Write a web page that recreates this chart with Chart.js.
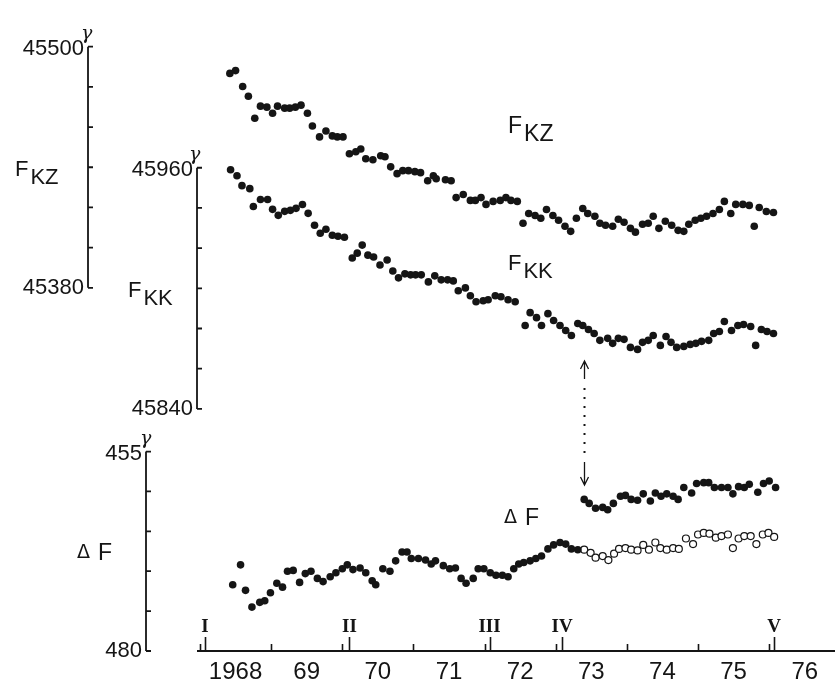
<!DOCTYPE html>
<html>
<head>
<meta charset="utf-8">
<script src="https://cdn.jsdelivr.net/npm/chart.js@4.4.1/dist/chart.umd.min.js"></script>
<style>
  html, body { margin: 0; padding: 0; background: #fff; }
  #wrap { position: relative; width: 839px; height: 684px; }
</style>
</head>
<body>
<div id="wrap"><canvas id="magChart" width="839" height="684"></canvas></div>
<script>
// Eixo X: anos
const yearMids = [1968.5, 1969.5, 1970.5, 1971.5, 1972.5, 1973.5, 1974.5, 1975.5, 1976.5];
const yearLabels = ['1968', '69', '70', '71', '72', '73', '74', '75', '76'];
const yearStarts = [1968, 1969, 1970, 1971, 1972, 1973, 1974, 1975, 1976];
const epochYears = [1968.07, 1970.1, 1972.07, 1973.09, 1976.07];
const epochLabels = ['I', 'II', 'III', 'IV', 'V'];

// Ticks dos eixos verticais
const fkzTicks = [45500, 45480, 45460, 45440, 45420, 45400, 45380];
const fkkTicks = [45960, 45940, 45920, 45900, 45880, 45860, 45840];
const dfTicks = [455, 460, 465, 470, 475, 480];

// F_KZ
const fkzYear = [1968.42, 1968.50, 1968.60, 1968.68, 1968.77, 1968.85, 1968.94, 1969.02, 1969.09, 1969.19,
  1969.26, 1969.34, 1969.42, 1969.51, 1969.58, 1969.68, 1969.77, 1969.86, 1969.93, 1970.01,
  1970.10, 1970.19, 1970.26, 1970.33, 1970.43, 1970.54, 1970.60, 1970.68, 1970.77, 1970.85,
  1970.93, 1971.02, 1971.10, 1971.20, 1971.28, 1971.32, 1971.45, 1971.53, 1971.60, 1971.70,
  1971.80, 1971.87, 1971.95, 1972.02, 1972.12, 1972.22, 1972.30, 1972.37, 1972.46, 1972.54,
  1972.62, 1972.71, 1972.79, 1972.87, 1972.96, 1973.04, 1973.13, 1973.21, 1973.29, 1973.38,
  1973.45, 1973.55, 1973.62, 1973.70, 1973.80, 1973.88, 1973.96, 1974.05, 1974.12, 1974.22,
  1974.30, 1974.37, 1974.45, 1974.54, 1974.63, 1974.72, 1974.80, 1974.87, 1974.96, 1975.04,
  1975.12, 1975.21, 1975.30, 1975.37, 1975.46, 1975.53, 1975.63, 1975.72, 1975.79, 1975.86,
  1975.96, 1976.06];
const fkzValue = [45486.7, 45488.1, 45480.2, 45475.3, 45464.4, 45470.4, 45469.9, 45466.9, 45470.4, 45469.4,
  45469.4, 45469.9, 45470.9, 45466.9, 45460.5, 45455.1, 45458.0, 45455.6, 45455.1, 45455.1,
  45446.7, 45447.7, 45449.1, 45444.2, 45443.7, 45445.7, 45445.2, 45440.2, 45436.8, 45438.3,
  45438.3, 45437.8, 45437.3, 45433.3, 45435.8, 45434.3, 45433.8, 45433.3, 45424.9, 45426.4,
  45423.5, 45423.5, 45424.9, 45421.5, 45423.0, 45423.5, 45424.9, 45423.5, 45423.0, 45412.1,
  45417.0, 45416.0, 45414.6, 45419.0, 45416.0, 45413.6, 45410.6, 45408.1, 45414.6, 45419.5,
  45417.0, 45415.6, 45412.1, 45411.1, 45410.6, 45414.1, 45412.6, 45409.6, 45407.7, 45411.6,
  45412.1, 45415.6, 45409.6, 45413.1, 45411.1, 45408.6, 45408.1, 45411.6, 45413.6, 45414.6,
  45415.6, 45417.0, 45419.0, 45423.0, 45417.0, 45421.5, 45421.5, 45421.0, 45410.6, 45420.0,
  45418.0, 45417.5];

// F_KK
const fkkYear = [1968.43, 1968.52, 1968.59, 1968.70, 1968.75, 1968.85, 1968.95, 1969.02, 1969.10, 1969.19,
  1969.27, 1969.35, 1969.44, 1969.52, 1969.61, 1969.69, 1969.77, 1969.86, 1969.94, 1970.03,
  1970.14, 1970.21, 1970.28, 1970.36, 1970.44, 1970.53, 1970.63, 1970.71, 1970.79, 1970.88,
  1970.96, 1971.03, 1971.11, 1971.21, 1971.30, 1971.39, 1971.48, 1971.56, 1971.63, 1971.73,
  1971.80, 1971.88, 1971.98, 1972.05, 1972.15, 1972.23, 1972.33, 1972.43, 1972.57, 1972.64,
  1972.73, 1972.80, 1972.89, 1972.97, 1973.06, 1973.14, 1973.22, 1973.31, 1973.38, 1973.46,
  1973.54, 1973.62, 1973.73, 1973.80, 1973.88, 1973.96, 1974.05, 1974.15, 1974.22, 1974.30,
  1974.37, 1974.47, 1974.55, 1974.62, 1974.70, 1974.80, 1974.89, 1974.97, 1975.05, 1975.15,
  1975.22, 1975.30, 1975.37, 1975.47, 1975.56, 1975.64, 1975.74, 1975.81, 1975.89, 1975.97,
  1976.06];
const fkkValue = [45959.0, 45956.0, 45951.1, 45949.6, 45940.7, 45944.2, 45944.2, 45939.3, 45936.3, 45938.3,
  45938.8, 45939.8, 45941.7, 45937.3, 45931.4, 45927.4, 45929.4, 45926.4, 45925.9, 45925.4,
  45915.1, 45917.5, 45921.5, 45916.5, 45915.6, 45911.6, 45914.1, 45908.6, 45905.2, 45907.2,
  45906.7, 45906.7, 45906.7, 45903.2, 45906.2, 45904.2, 45904.2, 45903.7, 45898.8, 45900.2,
  45896.3, 45893.3, 45893.8, 45894.3, 45896.3, 45895.8, 45894.3, 45893.3, 45881.5, 45887.9,
  45885.4, 45881.5, 45887.4, 45884.0, 45881.5, 45879.0, 45876.5, 45882.5, 45881.5, 45879.5,
  45877.5, 45874.1, 45875.1, 45872.6, 45875.1, 45874.6, 45870.6, 45869.6, 45873.1, 45874.1,
  45876.5, 45871.6, 45876.0, 45873.1, 45870.6, 45871.1, 45872.1, 45872.6, 45873.6, 45874.1,
  45877.5, 45878.5, 45883.5, 45879.0, 45881.5, 45882.0, 45881.0, 45871.6, 45879.5, 45878.5,
  45877.5];

// Delta F (pontos cheios ate 1973)
const dfYear = [1968.46, 1968.57, 1968.64, 1968.73, 1968.84, 1968.91, 1968.99, 1969.08, 1969.16, 1969.23,
  1969.31, 1969.40, 1969.48, 1969.56, 1969.65, 1969.73, 1969.83, 1969.91, 1970.00, 1970.07,
  1970.15, 1970.25, 1970.33, 1970.42, 1970.47, 1970.57, 1970.67, 1970.75, 1970.84, 1970.91,
  1970.97, 1971.07, 1971.17, 1971.25, 1971.31, 1971.42, 1971.51, 1971.59, 1971.67, 1971.74,
  1971.84, 1971.91, 1971.99, 1972.08, 1972.16, 1972.25, 1972.33, 1972.41, 1972.48, 1972.55,
  1972.64, 1972.72, 1972.80, 1972.89, 1972.97, 1973.06, 1973.14, 1973.22, 1973.31];
const dfValue = [471.7, 469.2, 472.4, 474.5, 473.9, 473.7, 472.7, 471.5, 472.0, 470.0,
  469.9, 471.4, 470.3, 470.0, 470.9, 471.3, 470.7, 470.2, 469.7, 469.2,
  469.8, 469.6, 470.2, 471.2, 471.7, 469.7, 470.0, 468.7, 467.6, 467.6,
  468.4, 468.4, 468.6, 469.1, 468.7, 469.3, 469.7, 469.6, 470.9, 471.5,
  470.9, 469.7, 469.7, 470.2, 470.5, 470.5, 470.7, 469.7, 469.1, 468.9,
  468.7, 468.4, 468.1, 467.2, 466.7, 466.4, 466.6, 467.2, 467.3];

// Delta F sem correcao (circulos abertos)
const dfOpenYear = [1973.40, 1973.49, 1973.56, 1973.66, 1973.74, 1973.82, 1973.89, 1973.98, 1974.06, 1974.15,
  1974.23, 1974.31, 1974.40, 1974.47, 1974.56, 1974.65, 1974.73, 1974.83, 1974.93, 1975.00,
  1975.08, 1975.16, 1975.25, 1975.33, 1975.42, 1975.49, 1975.57, 1975.65, 1975.74, 1975.82,
  1975.91, 1975.99, 1976.07];
const dfOpenValue = [467.3, 467.7, 468.3, 468.1, 468.6, 467.8, 467.2, 467.1, 467.3, 467.4,
  466.7, 467.3, 466.4, 467.1, 467.3, 467.1, 467.2, 465.9, 466.6, 465.4,
  465.2, 465.3, 465.8, 465.6, 465.4, 467.1, 465.9, 465.6, 465.6, 466.6,
  465.4, 465.2, 465.7];

// Delta F corrigido (pontos cheios depois da seta)
const dfCorrYear = [1973.40, 1973.47, 1973.56, 1973.66, 1973.73, 1973.81, 1973.91, 1973.98, 1974.06, 1974.15,
  1974.23, 1974.33, 1974.40, 1974.48, 1974.56, 1974.65, 1974.72, 1974.80, 1974.91, 1974.98,
  1975.08, 1975.15, 1975.23, 1975.33, 1975.42, 1975.49, 1975.57, 1975.65, 1975.72, 1975.84,
  1975.92, 1976.00, 1976.09];
const dfCorrValue = [461.0, 461.5, 462.1, 462.0, 462.3, 461.5, 460.6, 460.5, 461.0, 461.1,
  460.3, 461.2, 460.2, 460.6, 460.3, 460.6, 461.0, 459.5, 460.2, 459.0,
  458.9, 458.9, 459.5, 459.5, 459.5, 460.3, 459.4, 459.5, 459.1, 460.1,
  459.0, 458.7, 459.5];

const ink = '#151515';
const pts = (xs, ys) => xs.map((x, i) => ({ x: x, y: ys[i] }));

function dotSet(xs, ys, axis, open) {
  return {
    data: pts(xs, ys),
    yAxisID: axis,
    pointRadius: open ? 3.5 : 3.8,
    pointHoverRadius: 3.8,
    pointBackgroundColor: open ? '#fff' : ink,
    pointBorderColor: ink,
    pointBorderWidth: open ? 1.2 : 0,
    showLine: false,
    clip: false
  };
}

// texto com subscrito (F_KZ etc.)
function subText(c, main, sub, x, base, size) {
  c.font = size + 'px "Liberation Sans", Arial, sans-serif';
  c.textAlign = 'left';
  c.textBaseline = 'alphabetic';
  c.fillText(main, x, base);
  const w = c.measureText(main).width;
  c.fillText(sub, x + w + 2, base + 8);
}

function deltaF(c, x, base, size) {
  c.textAlign = 'left';
  c.textBaseline = 'alphabetic';
  c.font = Math.round(size * 0.82) + 'px "DejaVu Sans", sans-serif';
  c.fillText('\u0394', x, base - 2);
  c.font = size + 'px "Liberation Sans", Arial, sans-serif';
  c.fillText('F', x + Math.round(size * 0.9), base);
}

function vAxis(c, scale, x, ticks, gx) {
  const top = scale.getPixelForValue(ticks[0]);
  const bot = scale.getPixelForValue(ticks[ticks.length - 1]);
  c.strokeStyle = ink;
  c.lineWidth = 1.8;
  c.beginPath();
  c.moveTo(x, top);
  c.lineTo(x, bot);
  ticks.forEach(v => {
    const y = scale.getPixelForValue(v);
    c.moveTo(x, y);
    c.lineTo(x + 5, y);
  });
  c.stroke();
  c.fillStyle = ink;
  c.font = '22px "Liberation Sans", Arial, sans-serif';
  c.textAlign = 'right';
  c.textBaseline = 'middle';
  c.fillText(String(ticks[0]), x - 4, top + 2);
  c.fillText(String(ticks[ticks.length - 1]), x - 4, bot);
  c.font = 'italic 19px "DejaVu Serif", serif';
  c.textAlign = 'left';
  c.textBaseline = 'alphabetic';
  c.fillText('\u03b3', x + gx, top - 8);
}

const paperAxes = {
  id: 'paperAxes',
  afterDraw(chart) {
    const c = chart.ctx;
    const xs = chart.scales.x;
    const base = chart.chartArea.bottom;
    c.save();
    vAxis(c, chart.scales.yKZ, 88, fkzTicks, -7);
    vAxis(c, chart.scales.yKK, 197, fkkTicks, -8);
    vAxis(c, chart.scales.yDF, 146, dfTicks, -6);

    c.fillStyle = ink;
    subText(c, 'F', 'KZ', 15, 176, 22);
    subText(c, 'F', 'KK', 128, 297, 22);
    deltaF(c, 77, 560, 23);
    subText(c, 'F', 'KZ', 508, 133, 23);
    subText(c, 'F', 'KK', 508, 270, 22);
    deltaF(c, 504, 525, 23);

    // ticks do eixo x
    c.strokeStyle = ink;
    c.lineWidth = 1.6;
    c.beginPath();
    yearStarts.forEach(v => {
      const px = Math.round(xs.getPixelForValue(v)) + 0.5;
      c.moveTo(px, base);
      c.lineTo(px, base - 7);
    });
    epochYears.forEach(v => {
      const px = Math.round(xs.getPixelForValue(v)) + 0.5;
      c.moveTo(px, base);
      c.lineTo(px, base - 14);
    });
    c.stroke();

    // numerais romanos das epocas
    c.font = 'bold 19px "Liberation Serif", "DejaVu Serif", serif';
    c.textAlign = 'center';
    c.textBaseline = 'alphabetic';
    epochYears.forEach((v, i) => {
      c.fillText(epochLabels[i], xs.getPixelForValue(v), base - 19);
    });

    // setas ligando FKK e delta F em 1973
    const ax = Math.round(xs.getPixelForValue(dfCorrYear[0])) + 0.5;
    c.lineWidth = 1.3;
    c.beginPath();
    c.moveTo(ax, 362); c.lineTo(ax, 379);
    c.moveTo(ax - 4, 369); c.lineTo(ax, 361); c.lineTo(ax + 4, 369);
    c.moveTo(ax, 462); c.lineTo(ax, 485);
    c.moveTo(ax - 4, 477); c.lineTo(ax, 485); c.lineTo(ax + 4, 477);
    c.stroke();
    for (let y = 388; y < 458; y += 9) {
      c.fillRect(ax - 1, y, 2, 2);
    }
    c.restore();
  }
};

const ctx = document.getElementById('magChart').getContext('2d');
const myChart = new Chart(ctx, {
  type: 'scatter',
  data: {
    datasets: [
      dotSet(fkzYear, fkzValue, 'yKZ', false),
      dotSet(fkkYear, fkkValue, 'yKK', false),
      dotSet(dfYear, dfValue, 'yDF', false),
      dotSet(dfOpenYear, dfOpenValue, 'yDF', true),
      dotSet(dfCorrYear, dfCorrValue, 'yDF', false)
    ]
  },
  options: {
    responsive: false,
    animation: false,
    devicePixelRatio: 1,
    layout: { padding: { left: 198, right: 1, top: 0, bottom: 0 } },
    plugins: {
      legend: { display: false },
      tooltip: { enabled: false }
    },
    scales: {
      x: {
        type: 'linear',
        min: 1967.972,
        max: 1976.911,
        grid: { display: false, drawTicks: false },
        border: { display: true, color: ink, width: 2 },
        afterBuildTicks: scale => { scale.ticks = yearMids.map(v => ({ value: v })); },
        afterFit: scale => { scale.height = 33; },
        ticks: {
          autoSkip: false,
          maxRotation: 0,
          padding: 7,
          color: ink,
          font: { family: "'Liberation Sans', Arial, sans-serif", size: 24 },
          callback: (value, index) => yearLabels[index]
        }
      },
      yKZ: { type: 'linear', display: false, min: 45199.26, max: 45520.74 },
      yKK: { type: 'linear', display: false, min: 45719.51, max: 46040.99 },
      yDF: { type: 'linear', display: false, reverse: true, min: 399.03, max: 480 }
    }
  },
  plugins: [paperAxes]
});
</script>
</body>
</html>
